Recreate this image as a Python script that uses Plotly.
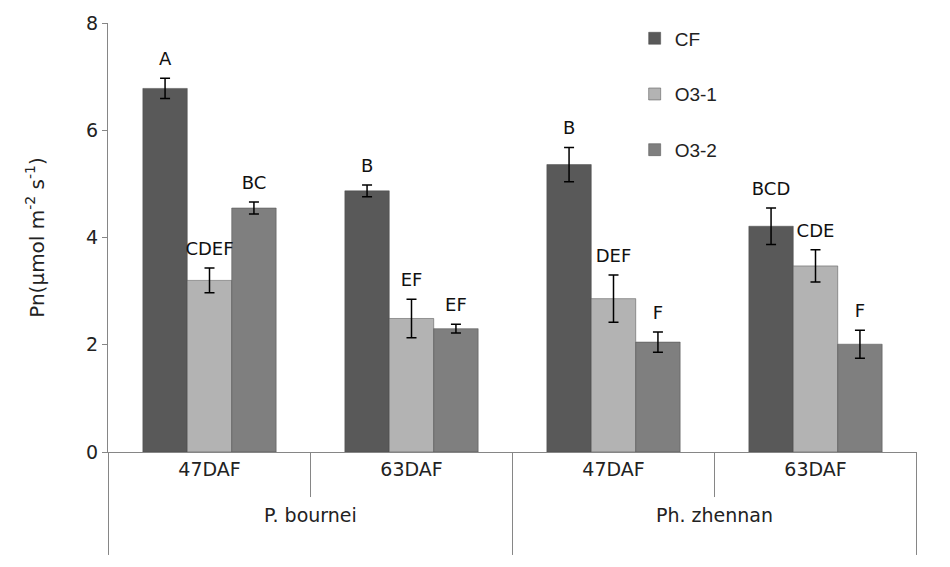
import plotly.graph_objects as go

# data
species = ["P. bournei", "P. bournei", "Ph. zhennan", "Ph. zhennan"]
stages = ["47DAF", "63DAF", "47DAF", "63DAF"]

cf = [6.78, 4.87, 5.36, 4.21]
cf_err = [0.19, 0.11, 0.32, 0.34]
cf_lab = ["A", "B", "B", "BCD"]

o3_1 = [3.20, 2.49, 2.86, 3.47]
o3_1_err = [0.23, 0.36, 0.44, 0.30]
o3_1_lab = ["CDEF", "EF", "DEF", "CDE"]

o3_2 = [4.55, 2.30, 2.05, 2.01]
o3_2_err = [0.11, 0.08, 0.19, 0.26]
o3_2_lab = ["BC", "EF", "F", "F"]

series = [
    ("CF", cf, cf_err, cf_lab, "#595959"),
    ("O3-1", o3_1, o3_1_err, o3_1_lab, "#b3b3b3"),
    ("O3-2", o3_2, o3_2_err, o3_2_lab, "#7f7f7f"),
]

label_font = "DejaVu Sans"
axis_col = "#868686"
x = [s + " " + t for s, t in zip(species, stages)]

fig = go.Figure()
for name, vals, errs, labs, col in series:
    fig.add_trace(go.Bar(
        x=x, y=vals, name=name, offsetgroup=name, legendgroup=name,
        marker=dict(color=col, line=dict(color="#4a4a4a", width=0.5)),
        error_y=dict(type="data", array=errs, color="black", thickness=1.5, width=5),
    ))
    # letters above the error bars (invisible marker pushes the text up a bit)
    fig.add_trace(go.Scatter(
        x=x, y=[v + e for v, e in zip(vals, errs)], mode="markers+text",
        text=labs, textposition="top center", offsetgroup=name,
        marker=dict(size=12, color="rgba(0,0,0,0)"),
        textfont=dict(family=label_font, size=18, color="#111"),
        showlegend=False, hoverinfo="skip",
    ))

# group dividers below the axis and the species labels
shapes = []
annotations = []
for i in range(len(x) + 1):
    xb = i - 0.5
    tall = i == 0 or i == len(x) or species[i] != species[i - 1]
    shapes.append(dict(type="line", xref="x", yref="paper", x0=xb, x1=xb,
                       y0=0, y1=-0.24 if tall else -0.105,
                       line=dict(color=axis_col, width=1)))
for sp in dict.fromkeys(species):
    idx = [i for i, s in enumerate(species) if s == sp]
    annotations.append(dict(x=sum(idx) / len(idx), y=-0.147, xref="x", yref="paper",
                            text=sp, showarrow=False, yanchor="middle",
                            font=dict(family=label_font, size=19, color="#222")))

fig.update_layout(
    width=950, height=567,
    barmode="group", scattermode="group", bargap=0.34, bargroupgap=0,
    plot_bgcolor="white", paper_bgcolor="white",
    margin=dict(l=100, r=41, t=14, b=123),
    font=dict(family=label_font, size=19, color="#222"),
    shapes=shapes, annotations=annotations,
    legend=dict(x=0.651, y=1.006, yanchor="top", tracegroupgap=28,
                font=dict(family="Liberation Sans", size=19, color="#222"),
                itemwidth=30),
)
fig.update_yaxes(
    range=[0, 8], tickvals=[0, 2, 4, 6, 8], showgrid=False, zeroline=False,
    showline=True, linecolor=axis_col, linewidth=1, automargin=False,
    ticks="outside", ticklen=5, tickcolor=axis_col,
    title=dict(text="Pn(μmol m<sup>-2</sup> s<sup>-1</sup>)", standoff=36,
               font=dict(size=20)),
)
fig.update_xaxes(
    type="category", tickvals=x, ticktext=stages, automargin=False,
    showline=True, linecolor=axis_col, linewidth=1, ticks="",
)

fig.write_html("out.html")
